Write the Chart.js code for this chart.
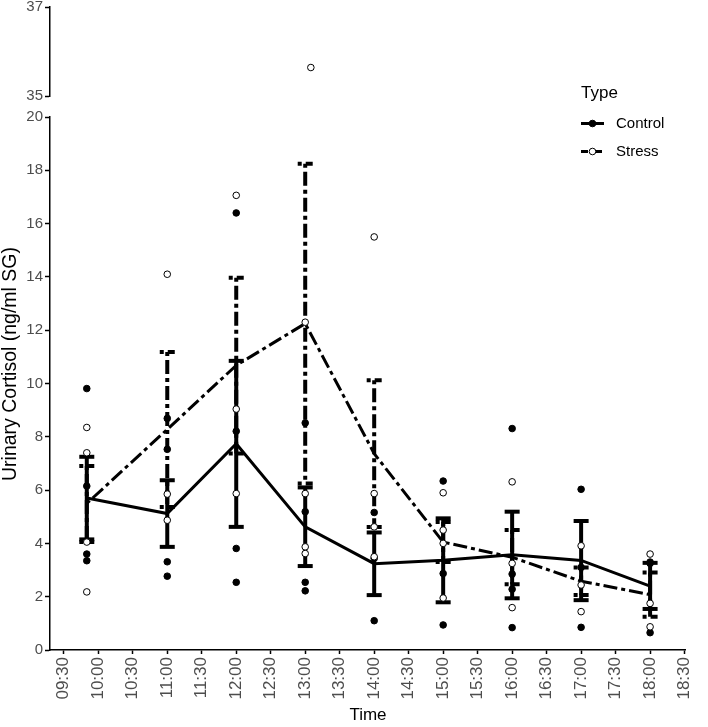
<!DOCTYPE html>
<html>
<head>
<meta charset="utf-8">
<script src="https://cdn.jsdelivr.net/npm/chart.js@4.4.1/dist/chart.umd.min.js"></script>
<style>
  html, body { margin: 0; padding: 0; background: #fff; }
  #wrap { position: relative; width: 708px; height: 727px; overflow: hidden; }
  #main { position: absolute; left: 0; top: 0; }
  #upper { position: absolute; left: 0; top: -20px; }
</style>
</head>
<body>
<div id="wrap">
  <canvas id="main" width="708" height="727"></canvas>
  <canvas id="upper" width="708" height="130"></canvas>
</div>
<script>
// sampling times
const times = ['09:50', '11:00', '12:00', '13:00', '14:00', '15:00', '16:00', '17:00', '18:00'];
const xTickLabels = ['09:30','10:00','10:30','11:00','11:30','12:00','12:30','13:00','13:30',
  '14:00','14:30','15:00','15:30','16:00','16:30','17:00','17:30','18:00','18:30'];
const upperTicks = [35, 37];
const groups = ['Control', 'Stress'];

// mean and error bar ends
const controlMean = [5.7, 5.12, 7.74, 4.62, 3.24, 3.37, 3.57, 3.36, 2.4];
const controlLow  = [4.15, 3.87, 4.62, 3.15, 2.06, 1.79, 1.94, 1.87, 1.54];
const controlHigh = [7.25, 6.37, 10.85, 6.1, 4.41, 4.94, 5.19, 4.84, 3.27];
const stressMean  = [5.5, 8.28, 10.68, 12.25, 7.37, 4.05, 3.48, 2.58, 2.08];
const stressLow   = [4.05, 5.37, 7.37, 6.25, 4.62, 3.3, 2.47, 2.06, 1.25];
const stressHigh  = [6.9, 11.18, 13.97, 18.25, 10.12, 4.8, 4.5, 3.1, 2.91];

// individual samples per time
const controlPoints = [
  [9.81, 6.15, 3.6, 3.35],
  [8.69, 7.53, 3.31, 2.77],
  [16.4, 8.21, 3.81, 2.54],
  [8.52, 5.19, 2.54, 2.22],
  [5.16, 3.44, 1.1],
  [6.34, 2.87, 0.94],
  [8.31, 2.85, 2.28, 0.84],
  [6.03, 3.1, 0.85],
  [3.25, 3.3, 0.65]
];
const stressPoints = [
  [8.35, 7.4, 4.05, 2.18],
  [14.1, 5.85, 4.87],
  [17.06, 9.04, 5.87],
  [35.64, 12.3, 5.87, 3.87, 3.62],
  [15.5, 5.87, 4.62, 3.5],
  [5.9, 4.5, 4.0, 1.95],
  [6.31, 3.25, 1.59],
  [3.91, 2.44, 1.44],
  [3.6, 1.75, 0.87]
];

const hrs = s => { const [h, m] = s.split(':').map(Number); return h + m / 60; };
const xTickValues = xTickLabels.map(hrs);
const X_MIN = 9.3, X_MAX = 18.52;
const DASH = [4, 4, 14, 4];
const FONT = '"Liberation Sans", Arial, Helvetica, sans-serif';
Chart.defaults.font.family = FONT;

const meanSeries = arr => times.map((t, i) => ({ x: hrs(t), y: arr[i] }));
const pointSeries = (pts, keep) => {
  const out = [];
  pts.forEach((vals, i) => vals.forEach(v => { if (keep(v)) out.push({ x: hrs(times[i]), y: v }); }));
  return out;
};

const errorBars = {
  id: 'errorBars',
  beforeDatasetsDraw(chart, args, opts) {
    const { ctx, scales: { x, y } } = chart;
    const cap = 7.5;
    ctx.save();
    opts.sets.forEach(s => {
      ctx.strokeStyle = '#000';
      ctx.lineWidth = 4;
      ctx.lineCap = 'butt';
      ctx.setLineDash(s.dash);
      times.forEach((t, i) => {
        const px = x.getPixelForValue(hrs(t));
        const top = y.getPixelForValue(s.high[i]);
        const bot = y.getPixelForValue(s.low[i]);
        ctx.beginPath(); ctx.moveTo(px, top); ctx.lineTo(px, bot); ctx.stroke();
        [top, bot].forEach(py => {
          ctx.beginPath(); ctx.moveTo(px - cap, py); ctx.lineTo(px + cap, py); ctx.stroke();
        });
      });
    });
    ctx.restore();
  }
};

// legend + y title (title sits centred on both panels, not only the lower one)
const typeLegend = {
  id: 'typeLegend',
  afterDraw(chart) {
    const ctx = chart.ctx;
    ctx.save();
    ctx.fillStyle = '#000';
    ctx.font = '17px ' + FONT;
    ctx.textBaseline = 'alphabetic';
    ctx.fillText('Type', 581, 98);
    groups.forEach((g, i) => {
      const cy = 123.5 + i * 28;
      ctx.strokeStyle = '#000';
      ctx.lineWidth = 3;
      ctx.setLineDash(i ? [7, 5, 9, 3] : []);
      ctx.beginPath(); ctx.moveTo(581, cy); ctx.lineTo(604, cy); ctx.stroke();
      ctx.setLineDash([]);
      ctx.beginPath(); ctx.arc(592.5, cy, 3.3, 0, Math.PI * 2);
      ctx.fillStyle = i ? '#fff' : '#000';
      ctx.fill();
      ctx.lineWidth = 1;
      ctx.stroke();
      ctx.fillStyle = '#000';
      ctx.font = '15px ' + FONT;
      ctx.textBaseline = 'middle';
      ctx.fillText(g, 616, cy);
    });
    ctx.translate(11, 364);
    ctx.rotate(-Math.PI / 2);
    ctx.textAlign = 'center';
    ctx.textBaseline = 'middle';
    ctx.font = '19.5px ' + FONT;
    ctx.fillText('Urinary Cortisol (ng/ml SG)', 0, 0);
    ctx.restore();
  }
};

const axisLine = { display: true, color: '#000', width: 1.5 };
const yTicks = { color: '#4d4d4d', font: { size: 15 }, padding: 2 };

function xScale(show) {
  const sc = {
    type: 'linear', min: X_MIN, max: X_MAX, display: show,
    afterBuildTicks(s) { s.ticks = xTickValues.map(v => ({ value: v })); },
    ticks: { color: '#4d4d4d', font: { size: 17 }, minRotation: 90, maxRotation: 90, padding: 3,
      autoSkip: false, callback: (v, i) => xTickLabels[i] },
    grid: { drawOnChartArea: false, tickLength: 4, color: '#000', tickWidth: 1.5 },
    border: axisLine,
    title: { display: true, text: 'Time', color: '#000', font: { size: 17 }, padding: { top: 0, bottom: 1 } }
  };
  if (show) sc.afterFit = s => { s.height = 77; };
  return sc;
}

const pointStyle = filled => ({
  type: 'scatter', pointRadius: 3.3, pointHoverRadius: 3.3, borderWidth: 1,
  borderColor: '#000', backgroundColor: filled ? '#000' : '#fff'
});

// dataset 0 is painted last, so the raw points come first
new Chart(document.getElementById('main'), {
  type: 'line',
  data: {
    datasets: [
      Object.assign({ label: 'Stress pts', data: pointSeries(stressPoints, v => v <= 20) }, pointStyle(false)),
      Object.assign({ label: 'Control pts', data: pointSeries(controlPoints, v => v <= 20) }, pointStyle(true)),
      { label: 'Control', data: meanSeries(controlMean), borderColor: '#000', borderWidth: 3, pointRadius: 0 },
      { label: 'Stress', data: meanSeries(stressMean), borderColor: '#000', borderWidth: 3, borderDash: DASH, pointRadius: 0 }
    ]
  },
  options: {
    responsive: false, animation: false,
    layout: { padding: { top: 117, right: 8, left: 0, bottom: 0 } },
    plugins: {
      legend: { display: false }, tooltip: { enabled: false },
      errorBars: { sets: [
        { low: stressLow, high: stressHigh, dash: DASH },
        { low: controlLow, high: controlHigh, dash: [] }
      ] }
    },
    scales: {
      x: xScale(true),
      y: {
        min: 0, max: 20,
        afterFit(s) { s.width = 50; },
        ticks: Object.assign({ stepSize: 2 }, yTicks),
        grid: { drawOnChartArea: false, tickLength: 5, color: '#000', tickWidth: 1.5 },
        border: axisLine
      }
    }
  },
  plugins: [errorBars, typeLegend]
});

new Chart(document.getElementById('upper'), {
  type: 'scatter',
  data: {
    datasets: [
      Object.assign({ label: 'Stress pts', data: pointSeries(stressPoints, v => v >= 35) }, pointStyle(false)),
      Object.assign({ label: 'Control pts', data: pointSeries(controlPoints, v => v >= 35) }, pointStyle(true))
    ]
  },
  options: {
    responsive: false, animation: false,
    layout: { padding: { top: 27, right: 8, left: 0, bottom: 14 } },
    plugins: { legend: { display: false }, tooltip: { enabled: false } },
    scales: {
      x: xScale(false),
      y: {
        min: 35, max: 37,
        afterFit(s) { s.width = 50; },
        afterBuildTicks(s) { s.ticks = upperTicks.map(v => ({ value: v })); },
        ticks: yTicks,
        grid: { drawOnChartArea: false, tickLength: 5, color: '#000', tickWidth: 1.5 },
        border: axisLine
      }
    }
  }
});
</script>
</body>
</html>
